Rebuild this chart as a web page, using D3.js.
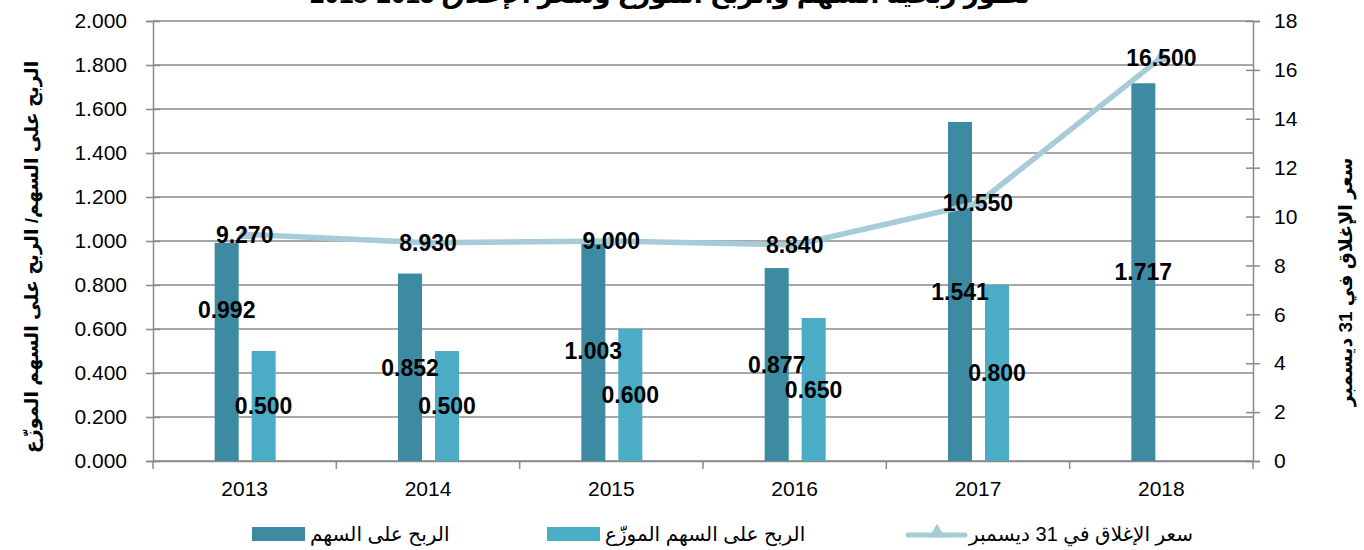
<!DOCTYPE html>
<html>
<head>
<meta charset="utf-8">
<script src="https://cdn.jsdelivr.net/npm/d3@7/dist/d3.min.js"></script>
<style>
  body { margin: 0; background: #fff; }
  svg text { font-family: "Liberation Sans", "DejaVu Sans", sans-serif; }
</style>
</head>
<body>
<svg id="chart" width="1364" height="550"></svg>
<script>
// data
var years = ["2013", "2014", "2015", "2016", "2017", "2018"];
var eps = [0.992, 0.852, 1.003, 0.877, 1.541, 1.717];
var dps = [0.500, 0.500, 0.600, 0.650, 0.800, null];
var closePrice = [9.270, 8.930, 9.000, 8.840, 10.550, 16.500];
var leftTicks = [0, 0.2, 0.4, 0.6, 0.8, 1.0, 1.2, 1.4, 1.6, 1.8, 2.0];
var rightTicks = [0, 2, 4, 6, 8, 10, 12, 14, 16, 18];

var seriesNames = ["الربح على السهم", "الربح على السهم الموزّع", "سعر الإغلاق في 31 ديسمبر"];
var title = "تطور ربحية السهم والربح الموزع وسعر الإغلاق 2013-2018";
var leftTitle = "الربح على السهم/ الربح على السهم الموزّع";
var rightTitle = "سعر الإغلاق في 31 ديسمبر";

var colDark = "#3d8ba3", colLight = "#4bacc6", colLine = "#a7cbd7", colGrid = "#8a8a8a";

var svg = d3.select("svg#chart");
var margin = { top: 21, right: 111, bottom: 89, left: 153 };
var width = 1364 - margin.left - margin.right;
var height = 550 - margin.top - margin.bottom;

var g = svg.append("g")
  .attr("transform", "translate(" + margin.left + "," + margin.top + ")");

var x = d3.scaleBand().domain(years).range([0, width]).padding(0);
var x1 = d3.scaleBand().domain(["eps", "dps"]).range([-30, 31]).paddingInner(0.35);
var y = d3.scaleLinear().domain([0, 2]).range([height, 0]);
var y2 = d3.scaleLinear().domain([0, 18]).range([height, 0]);

// gridlines
g.append("g")
  .selectAll("line")
  .data(leftTicks)
  .enter()
  .append("line")
  .attr("x1", 0)
  .attr("x2", width)
  .attr("y1", function(d) { return y(d); })
  .attr("y2", function(d) { return y(d); })
  .attr("stroke", colGrid)
  .attr("stroke-width", 1.5);

// left axis
var la = g.append("g")
  .call(d3.axisLeft(y).tickValues(leftTicks).tickFormat(d3.format(".3f")).tickSize(7).tickPadding(19));
la.select(".domain").attr("stroke", colGrid).attr("stroke-width", 1.5);
la.selectAll(".tick line").attr("x2", 7).attr("x1", -7).attr("stroke", colGrid).attr("stroke-width", 1.5);
la.selectAll(".tick text").attr("font-size", 21).attr("fill", "#000");

// right axis
var ra = g.append("g")
  .attr("transform", "translate(" + width + ",0)")
  .call(d3.axisRight(y2).tickValues(rightTicks).tickSize(7).tickPadding(14));
ra.select(".domain").attr("stroke", colGrid).attr("stroke-width", 1.5);
ra.selectAll(".tick line").attr("x1", -7).attr("stroke", colGrid).attr("stroke-width", 1.5);
ra.selectAll(".tick text").attr("font-size", 21).attr("fill", "#000");

// bottom axis
var xa = g.append("g")
  .attr("transform", "translate(0," + height + ")")
  .call(d3.axisBottom(x).tickSize(0).tickPadding(20));
xa.select(".domain").attr("stroke", colGrid).attr("stroke-width", 1.5);
xa.selectAll(".tick text").attr("font-size", 21).attr("fill", "#000");
xa.selectAll("line.sep")
  .data(d3.range(years.length + 1))
  .enter()
  .append("line")
  .attr("class", "sep")
  .attr("x1", function(i) { return i * x.step(); })
  .attr("x2", function(i) { return i * x.step(); })
  .attr("y1", 0)
  .attr("y2", 8)
  .attr("stroke", colGrid)
  .attr("stroke-width", 1.5);

// bars
var rows = years.map(function(yr, i) {
  return { year: yr, eps: eps[i], dps: dps[i], close: closePrice[i] };
});

var bars = g.append("g").selectAll("g")
  .data(rows)
  .enter()
  .append("g")
  .attr("transform", function(d) { return "translate(" + (x(d.year) + x.bandwidth() / 2) + ",0)"; });

bars.selectAll("rect")
  .data(function(d) {
    return [{ key: "eps", v: d.eps }, { key: "dps", v: d.dps }].filter(function(e) { return e.v != null; });
  })
  .enter()
  .append("rect")
  .attr("x", function(d) { return x1(d.key); })
  .attr("width", x1.bandwidth())
  .attr("y", function(d) { return y(d.v); })
  .attr("height", function(d) { return height - y(d.v); })
  .attr("fill", function(d) { return d.key == "eps" ? colDark : colLight; });

// closing price line
var line = d3.line()
  .x(function(d) { return x(d.year) + x.bandwidth() / 2; })
  .y(function(d) { return y2(d.close); });

g.append("path")
  .datum(rows)
  .attr("d", line)
  .attr("fill", "none")
  .attr("stroke", colLine)
  .attr("stroke-width", 5.5);

var tri = d3.symbol().type(d3.symbolTriangle).size(110);
g.append("g").selectAll("path")
  .data(rows)
  .enter()
  .append("path")
  .attr("d", tri)
  .attr("transform", function(d) {
    return "translate(" + (x(d.year) + x.bandwidth() / 2) + "," + y2(d.close) + ")";
  })
  .attr("fill", colLine);

// data labels
var labelNudge = { "2013": -42 }; // the 0.992 label was dragged up in the original
var labels = g.append("g")
  .attr("font-size", 23)
  .attr("font-weight", "bold")
  .attr("text-anchor", "middle")
  .attr("fill", "#000");

bars.each(function(d) {
  var cx = x(d.year) + x.bandwidth() / 2;
  labels.append("text")
    .attr("x", cx + x1("eps") + x1.bandwidth() / 2)
    .attr("y", (y(d.eps) + height) / 2 + (labelNudge[d.year] || 0))
    .attr("dy", "0.36em")
    .text(d3.format(".3f")(d.eps));
  if (d.dps != null) {
    labels.append("text")
      .attr("x", cx + x1("dps") + x1.bandwidth() / 2)
      .attr("y", (y(d.dps) + height) / 2)
      .attr("dy", "0.36em")
      .text(d3.format(".3f")(d.dps));
  }
  labels.append("text")
    .attr("x", cx)
    .attr("y", y2(d.close))
    .attr("dy", "0.36em")
    .text(d3.format(".3f")(d.close));
});

// titles (chart title is clipped by the top edge, as in the original)
svg.append("text")
  .attr("x", 670)
  .attr("y", 3)
  .attr("text-anchor", "middle")
  .attr("font-size", 26)
  .attr("font-weight", "bold")
  .attr("direction", "rtl")
  .text(title);

svg.append("text")
  .attr("transform", "translate(38," + (margin.top + height / 2 + 16) + ") rotate(-90)")
  .attr("text-anchor", "middle")
  .attr("font-size", 19)
  .attr("font-weight", "bold")
  .text(leftTitle);

svg.append("text")
  .attr("transform", "translate(1352," + 282 + ") rotate(-90)")
  .attr("text-anchor", "middle")
  .attr("font-size", 19)
  .attr("font-weight", "bold")
  .text(rightTitle);

// legend
var legendX = [252, 547, 908];
var legend = svg.append("g").attr("font-size", 20);
legendX.forEach(function(lx, i) {
  var item = legend.append("g").attr("transform", "translate(" + lx + ",527)");
  if (i < 2) {
    item.append("rect")
      .attr("width", 53)
      .attr("height", 14)
      .attr("fill", i == 0 ? colDark : colLight);
  } else {
    item.append("line")
      .attr("x1", 0).attr("x2", 57)
      .attr("y1", 8).attr("y2", 8)
      .attr("stroke", colLine)
      .attr("stroke-width", 5)
      .attr("stroke-linecap", "round");
    item.append("path")
      .attr("d", tri)
      .attr("transform", "translate(29,6)")
      .attr("fill", colLine);
  }
  item.append("text")
    .attr("x", i < 2 ? 58 : 61)
    .attr("y", 14)
    .text(seriesNames[i]);
});
</script>
</body>
</html>
